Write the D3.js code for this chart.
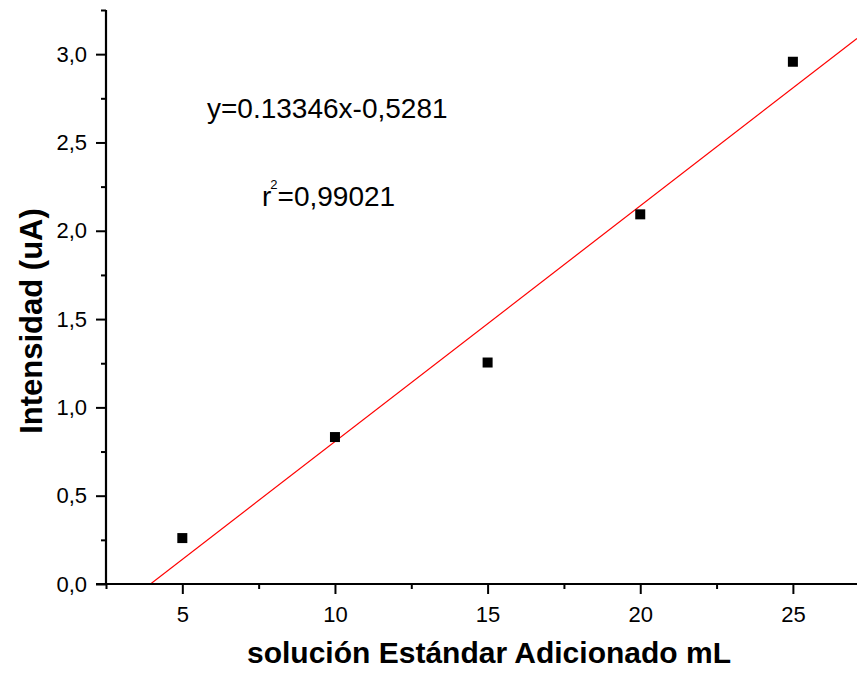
<!DOCTYPE html>
<html>
<head>
<meta charset="utf-8">
<script src="https://cdn.jsdelivr.net/npm/d3@7"></script>
<style>
  html, body { margin: 0; padding: 0; background: #fff; }
  svg { display: block; font-family: "Liberation Sans", Arial, sans-serif; }
</style>
</head>
<body>
<svg id="chart" width="857" height="673"></svg>
<script>
// ---- Data ----
const xValues = [5, 10, 15, 20, 25];
const yValues = [0.260, 0.832, 1.254, 2.093, 2.957];
const fitSlope = 0.13346;
const fitIntercept = -0.5281;
const xTicks = [5, 10, 15, 20, 25];
const xMinorTicks = [2.5, 7.5, 12.5, 17.5, 22.5];
const yTicks = [0, 0.5, 1.0, 1.5, 2.0, 2.5, 3.0];
const yMinorTicks = [0.25, 0.75, 1.25, 1.75, 2.25, 2.75, 3.25];
const xTitle = "solución Estándar Adicionado mL";
const yTitle = "Intensidad (uA)";
const eqText = "y=0.13346x-0,5281";
const r2Value = "=0,99021";

// ---- Layout ----
const svg = d3.select("#chart");
const pLeft = 106, pRight = 857, pTop = 10, pBottom = 584;
const x = d3.scaleLinear().domain([2.5, 27.1]).range([pLeft, pRight]);
const y = d3.scaleLinear().domain([0, 3.25]).range([pBottom, pTop]);
const fmt = d => d3.format(".1f")(d).replace(".", ",");

svg.append("defs").append("clipPath").attr("id", "clip")
  .append("rect").attr("x", pLeft).attr("y", pTop).attr("width", pRight - pLeft).attr("height", pBottom - pTop);

// Fit line
const fitX = [2.5, 27.1];
svg.append("g").attr("clip-path", "url(#clip)")
  .append("path")
  .datum(fitX)
  .attr("d", d3.line().x(d => x(d)).y(d => y(fitSlope * d + fitIntercept)))
  .attr("fill", "none").attr("stroke", "#ff0000").attr("stroke-width", 1.2);

// Points
svg.append("g").selectAll("rect").data(xValues).join("rect")
  .attr("x", (d) => x(d) - 5)
  .attr("y", (d, i) => y(yValues[i]) - 5)
  .attr("width", 10).attr("height", 10)
  .attr("fill", "#000");

// X axis
const gx = svg.append("g").attr("transform", `translate(0,${pBottom})`);
gx.call(d3.axisBottom(x).tickValues(xTicks).tickSize(10).tickPadding(12).tickFormat(d3.format("d")));
gx.append("g").call(d3.axisBottom(x).tickValues(xMinorTicks).tickSize(5).tickFormat(""));
gx.selectAll("g g .domain").remove();
gx.select(".domain").attr("d", `M${pLeft - 10},0H${pRight}`).attr("stroke-width", 2.2);
gx.selectAll(".tick line").attr("stroke", "#000").attr("stroke-width", 2);
gx.selectAll(".tick text").attr("font-size", 22).attr("fill", "#000")
  .attr("font-family", "Liberation Sans, Arial, sans-serif");

// Y axis
const gy = svg.append("g").attr("transform", `translate(${pLeft},0)`);
gy.call(d3.axisLeft(y).tickValues(yTicks).tickSize(10).tickPadding(9).tickFormat(fmt));
gy.append("g").call(d3.axisLeft(y).tickValues(yMinorTicks).tickSize(5).tickFormat(""));
gy.selectAll("g g .domain").remove();
gy.select(".domain").attr("d", `M0,${pBottom}V${pTop}`).attr("stroke-width", 2.2);
gy.selectAll(".tick line").attr("stroke", "#000").attr("stroke-width", 2);
gy.selectAll(".tick text").attr("font-size", 22).attr("fill", "#000")
  .attr("font-family", "Liberation Sans, Arial, sans-serif");

// Axis titles
svg.append("text")
  .attr("x", 489).attr("y", 663)
  .attr("text-anchor", "middle")
  .attr("font-size", 30).attr("font-weight", "bold")
  .text(xTitle);

svg.append("text")
  .attr("transform", "translate(42,321) rotate(-90)")
  .attr("text-anchor", "middle")
  .attr("font-size", 31).attr("font-weight", "bold")
  .text(yTitle);

// Annotations
svg.append("text")
  .attr("x", 207).attr("y", 118)
  .attr("font-size", 28)
  .text(eqText);

const r2 = svg.append("text").attr("x", 262).attr("y", 206).attr("font-size", 28);
r2.append("tspan").text("r");
r2.append("tspan").attr("font-size", 13).attr("dy", -17).attr("dx", -1).text("2");
r2.append("tspan").attr("dy", 17).text(r2Value);
</script>
</body>
</html>
